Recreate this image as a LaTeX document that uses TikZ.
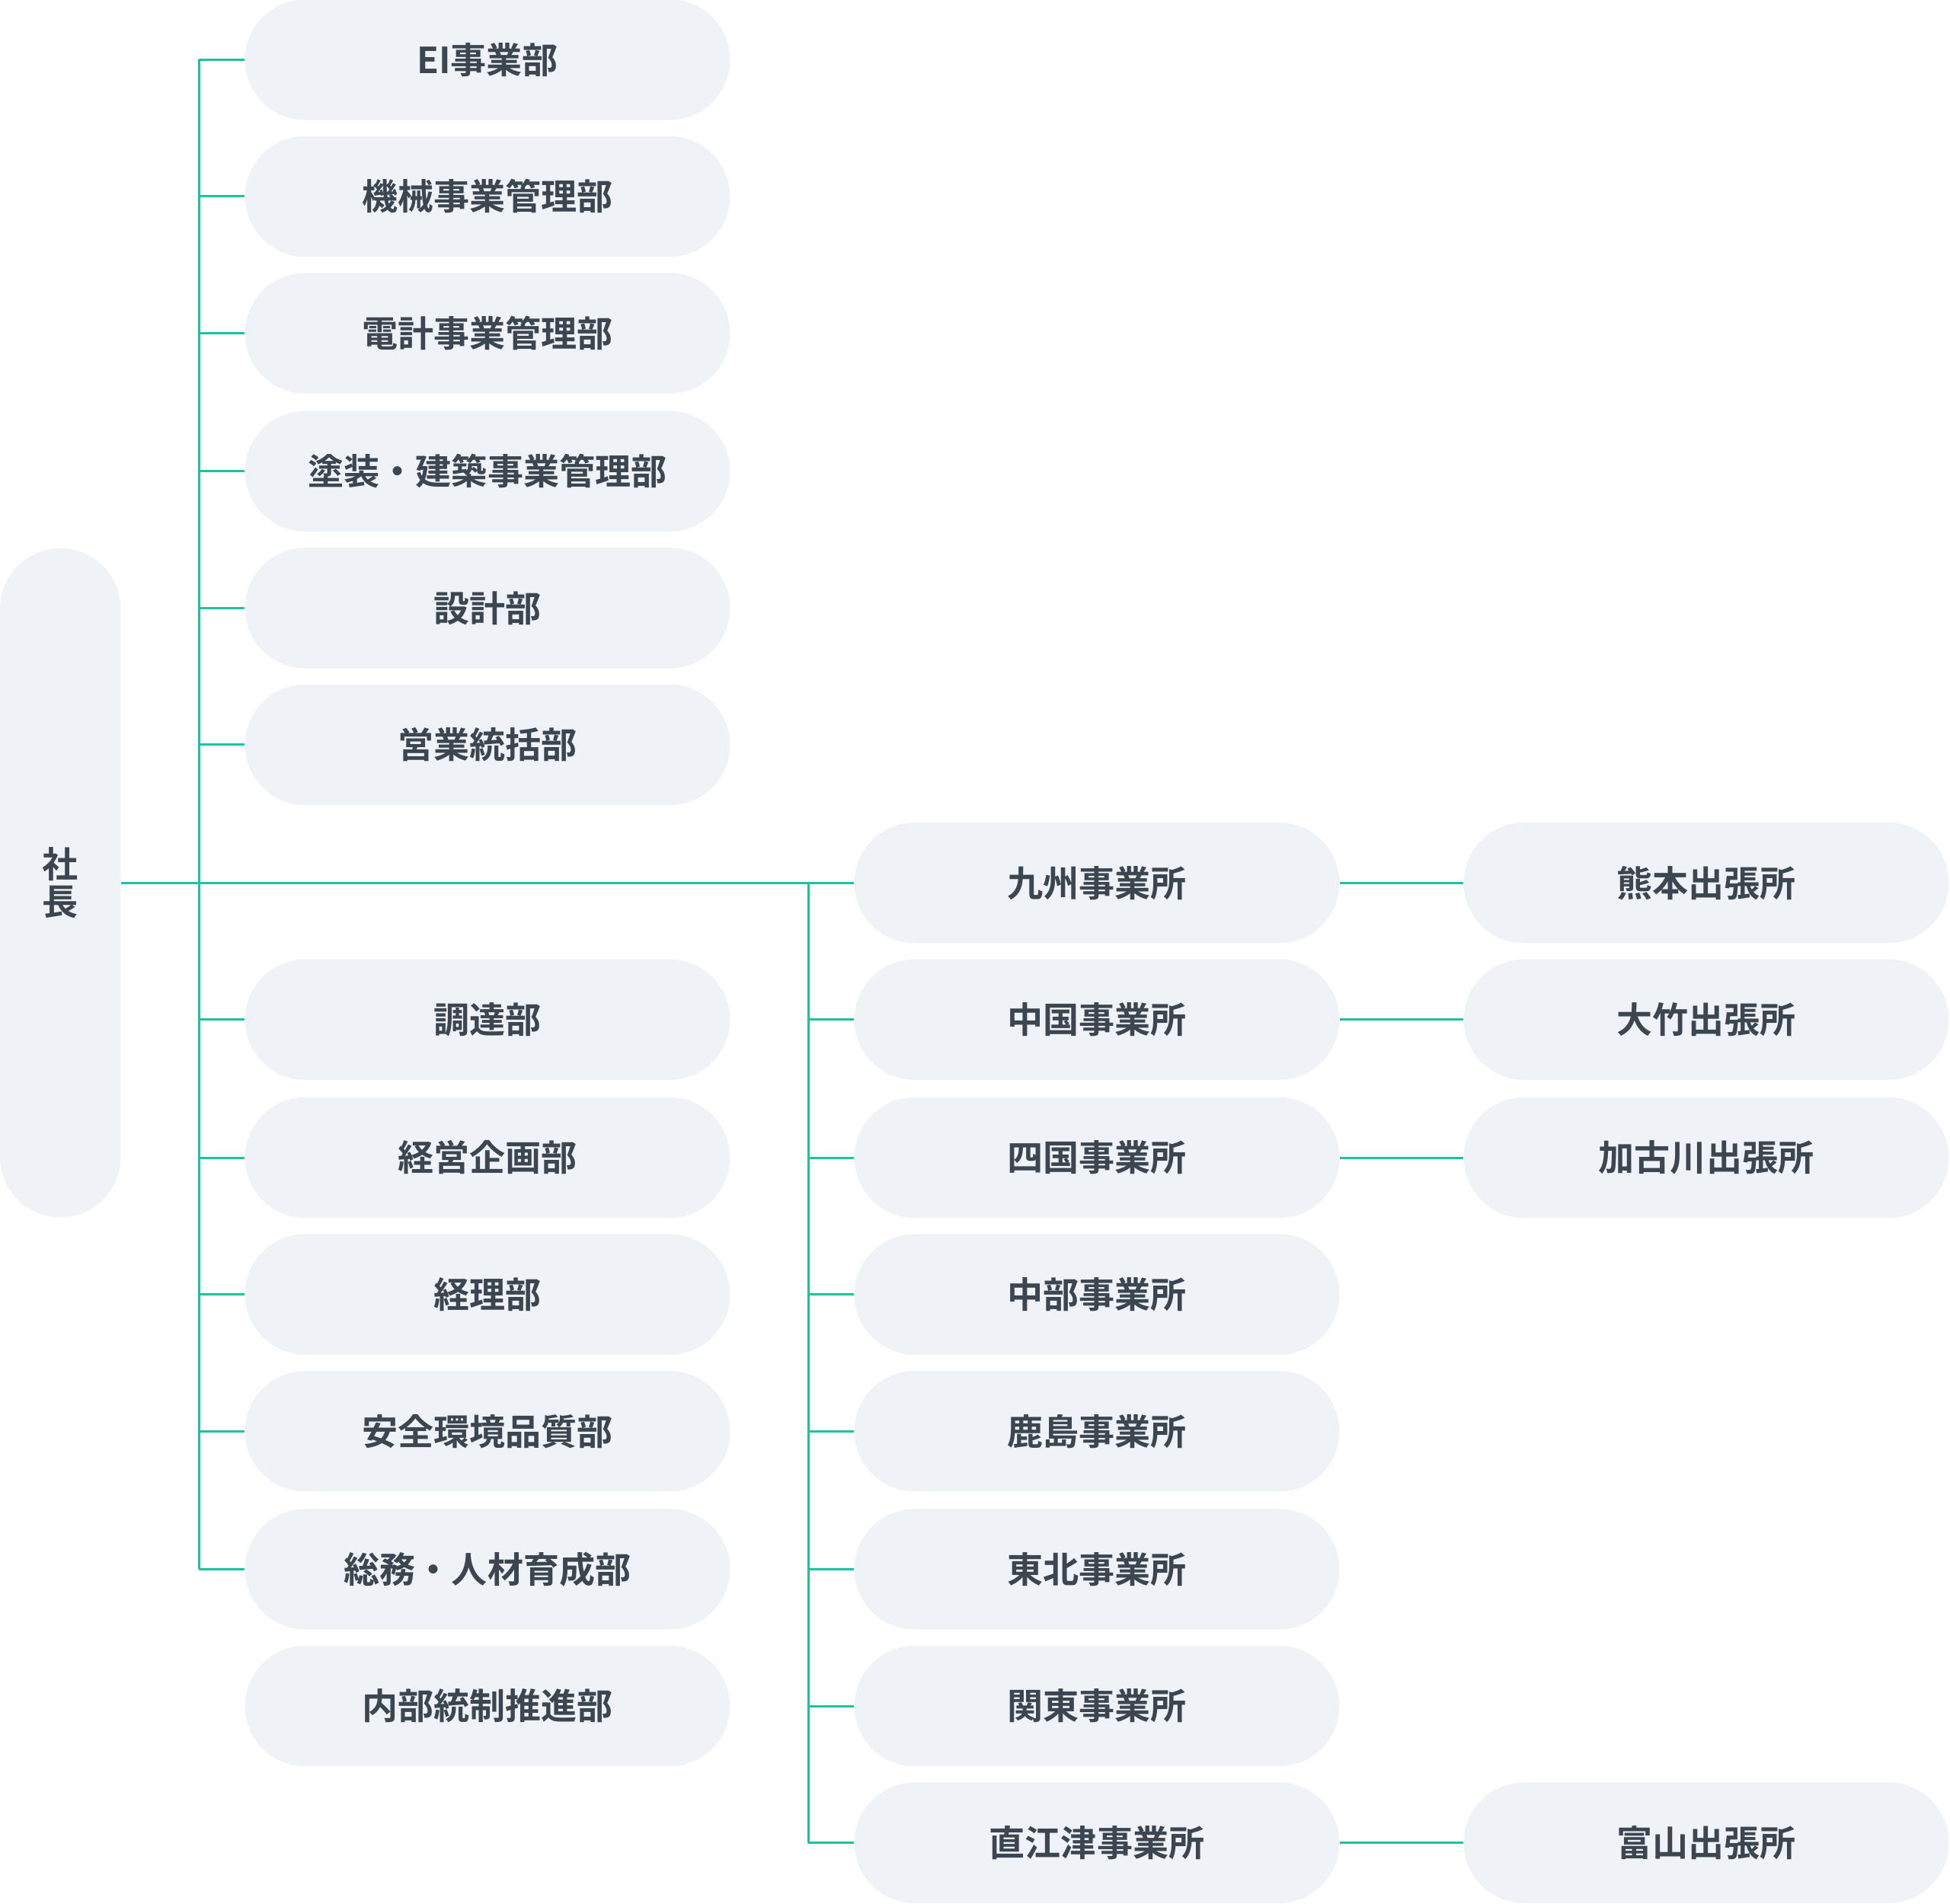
\documentclass[tikz,border=0pt]{standalone}
\usepackage{fontspec}
\newfontfamily\jp{Noto Sans CJK JP}[BoldFont=* Bold]
\definecolor{boxc}{HTML}{EFF2F7}
\definecolor{linec}{HTML}{1EC2A0}
\definecolor{txt}{HTML}{3C4650}
\begin{document}
\begin{tikzpicture}[x=0.025cm,y=-0.025cm,
  box/.style={fill=boxc,rounded corners=48.5*0.025cm,minimum width=390*0.025cm,minimum height=97*0.025cm,inner sep=0,
    font=\jp\bfseries\fontsize{20.5pt}{24pt}\selectfont,text=txt},
  ln/.style={draw=linec,line width=1.3pt}]
\useasboundingbox (0,0) rectangle (1568,1531);
\node[box,minimum width=97*0.025cm,minimum height=538*0.025cm] (ceo) at (48.5,710) {\shortstack{社\\長}};
\foreach \n/\y/\t in {a/48/EI事業部,b/158/機械事業管理部,c/268/電計事業管理部,d/379/塗装・建築事業管理部,e/489/設計部,f/599/営業統括部,g/820/調達部,h/931/経営企画部,i/1041/経理部,j/1151/安全環境品質部,k/1262/総務・人材育成部,l/1372/内部統制推進部}
  \node[box] (\n) at (392,\y) {\t};
\foreach \n/\y/\t in {m1/710/九州事業所,m2/820/中国事業所,m3/931/四国事業所,m4/1041/中部事業所,m5/1151/鹿島事業所,m6/1262/東北事業所,m7/1372/関東事業所,m8/1482/直江津事業所}
  \node[box] (\n) at (882,\y) {\t};
\foreach \n/\y/\t in {r1/710/熊本出張所,r2/820/大竹出張所,r3/931/加古川出張所,r8/1482/富山出張所}
  \node[box] (\n) at (1372,\y) {\t};
\coordinate (tl) at (160,48);
\coordinate (bl) at (160,1262);
\coordinate (mt) at (650,710);
\coordinate (mb) at (650,1482);
\draw[ln] (tl) -- (bl);
\draw[ln] (ceo.east) -- (m1.west);
\draw[ln] (mt) -- (mb);
\foreach \n in {a,b,c,d,e,f,g,h,i,j,k} \draw[ln] (\n.west) -- ++(-37,0);
\foreach \n in {m2,m3,m4,m5,m6,m7,m8} \draw[ln] (\n.west) -- ++(-37,0);
\foreach \a/\b in {m1/r1,m2/r2,m3/r3,m8/r8} \draw[ln] (\a.east) -- (\b.west);
\end{tikzpicture}
\end{document}
